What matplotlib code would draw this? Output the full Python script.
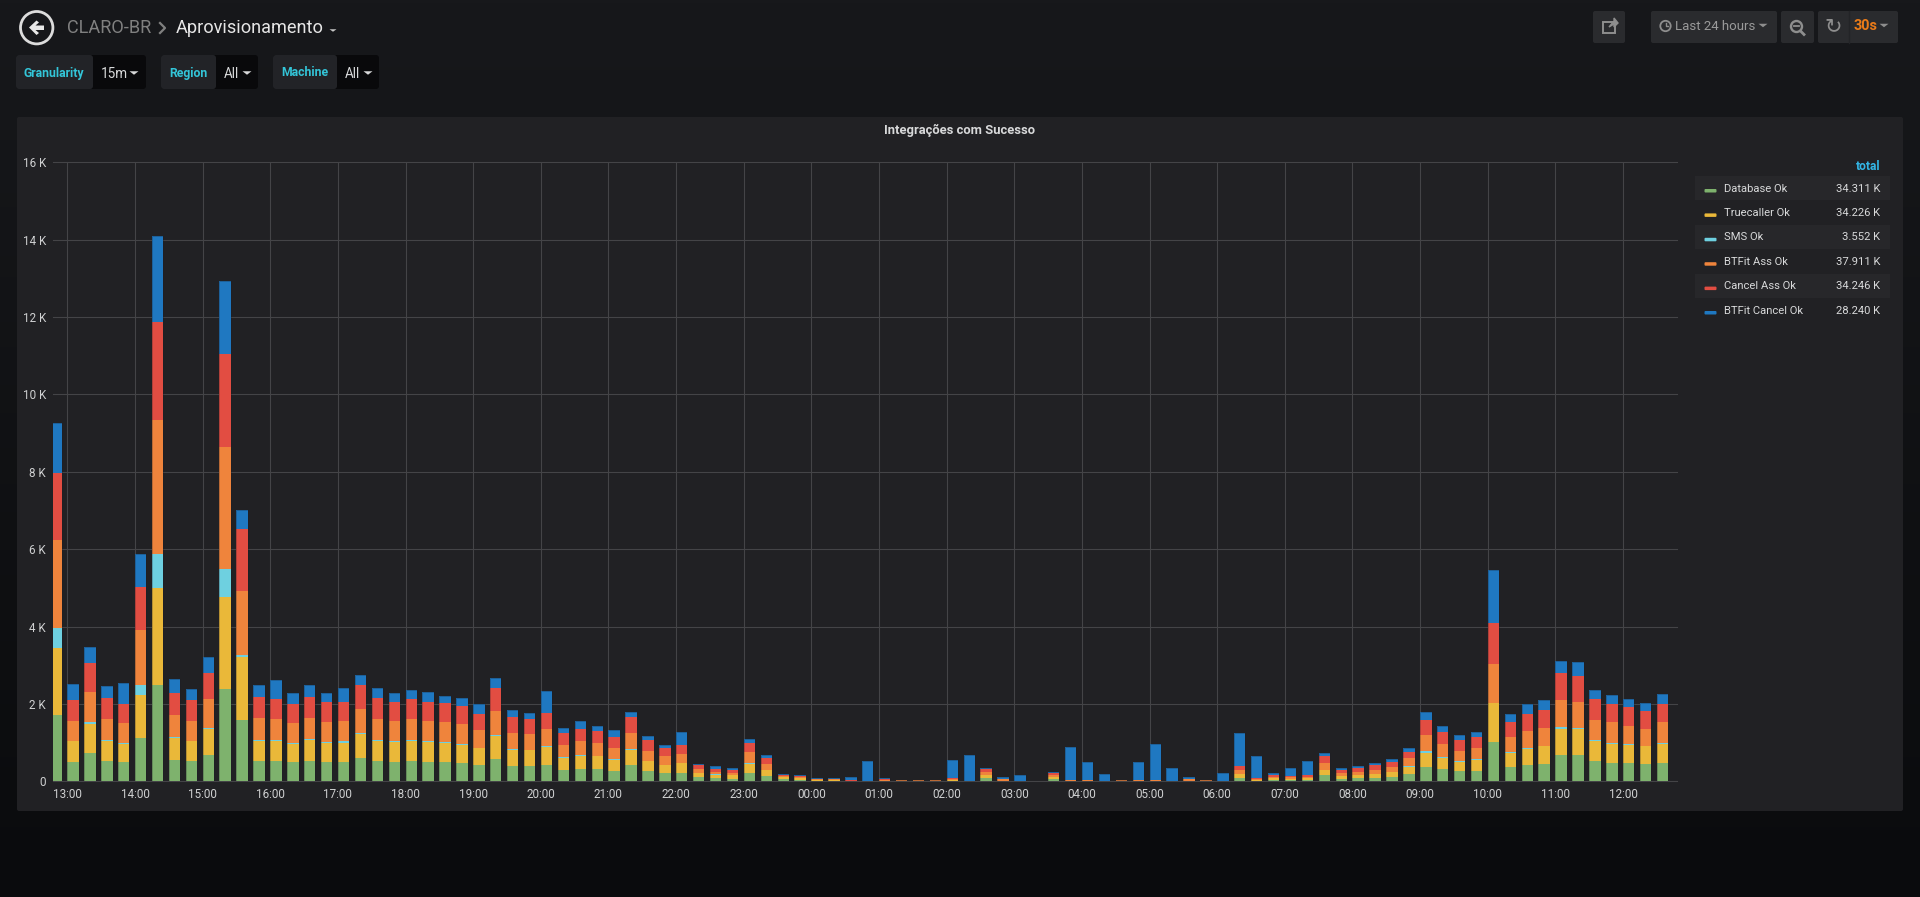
import numpy as np
import pandas as pd
import matplotlib
matplotlib.use("Agg")
import matplotlib.pyplot as plt
import matplotlib.dates as mdates
from matplotlib.patches import Circle, FancyBboxPatch, Polygon, Rectangle

plt.rcParams['font.family'] = ['Roboto', 'DejaVu Sans']

# 15 minute buckets, values in thousands
times = pd.date_range("2019-06-10 12:45", periods=96, freq="15min")

database = [1.71,.51,.72,.53,.50,1.11,2.50,.55,.52,.67,2.38,1.59,.52,.52,.49,.53,.50,
    .50,.61,.53,.51,.53,.50,.50,.47,
    .42,.58,.40,.39,.43,.30,.33,.32,.27,.41,.26,.22,.22,.10,.08,.07,
    .22,.13,.07,.04,.02,.01,.01,0,.01,.005,.005,.005,.02,0,.08,.01,0,0,.06,.005,.005,0,.01,.005,
    .005,0,.005,.005,0,.09,.02,.04,.035,.04,.155,.06,.08,.095,.11,.18,
    .36,.31,.26,.27,1.01,.36,.41,.45,.67,.67,.52,.48,.47,.44,.47]
truecaller = [1.73,.52,.75,.52,.47,1.13,2.50,.58,.51,.67,2.39,1.62,.52,.52,.47,.55,.49,
    .50,.60,.52,.51,.51,.52,.50,.47,
    .43,.58,.40,.41,.45,.31,.33,.33,.27,.40,.26,.19,.25,.11,.09,.08,
    .22,.15,.03,.04,.02,.02,0,0,.01,.005,.005,.005,.02,.01,.075,.01,0,0,.06,.015,.005,.005,.01,.005,
    .005,0,.01,.01,0,.10,.015,.04,.025,.05,.145,.08,.08,.105,.13,.20,
    .38,.30,.25,.29,1.01,.38,.43,.45,.69,.67,.53,.49,.48,.46,.50]
sms = [.53,.01,.06,.03,.03,.26,.88,.02,.01,.05,.73,.06,.04,.02,.03,.01,.02,
    .03,.03,.03,.01,.03,.02,.02,.03,
    .02,.03,.03,.01,.02,.02,.02,.01,.03,.03,.01,.01,0,.01,.01,.01,
    .03,.02,0,0,0,0,0,0,0,0,0,0,0,0,.005,0,0,0,0,0,0,0,0,0,
    0,0,0,0,0,0,0,0,0,0,0,0,0,0,.01,.02,
    .04,.03,.02,.02,.01,.02,.03,.02,.04,.03,.02,.03,.02,.01,.03]
btfit_ass = [2.27,.53,.78,.54,.51,1.40,3.47,.56,.53,.74,3.15,1.65,.56,.55,.51,.55,.53,
    .53,.64,.54,.52,.53,.51,.51,.50,
    .45,.62,.41,.41,.44,.31,.35,.32,.28,.42,.26,.23,.23,.09,.07,.06,
    .28,.14,.03,.03,.02,.02,.01,.005,.02,.015,.015,.015,.03,.01,.08,.03,.005,.01,.05,.02,.02,.005,.01,.02,
    .02,.005,.035,.02,.005,.10,.025,.04,.04,.03,.18,.08,.09,.10,.13,.19,
    .42,.33,.26,.27,1.01,.39,.43,.47,.71,.68,.52,.52,.47,.45,.52]
cancel_ass = [1.73,.52,.74,.54,.50,1.12,2.51,.58,.52,.68,2.39,1.61,.53,.53,.50,.54,.50,
    .50,.61,.53,.51,.52,.51,.50,.47,
    .42,.59,.42,.39,.43,.30,.33,.31,.29,.41,.27,.21,.23,.10,.06,.08,
    .23,.15,.03,.03,.01,0,.01,.005,.01,.005,.005,.005,.02,0,.09,.02,.005,.005,.05,.005,.005,.005,.005,.005,
    .005,.005,.005,.005,.005,.11,.025,.05,.04,.04,.18,.08,.10,.11,.13,.18,
    .39,.31,.28,.29,1.04,.37,.45,.46,.69,.68,.54,.49,.47,.45,.49]
btfit_cancel = [1.28,.43,.42,.31,.54,.85,2.23,.36,.30,.40,1.88,.48,.33,.47,.29,.31,.25,
    .34,.25,.27,.23,.23,.25,.18,.22,
    .25,.27,.19,.16,.57,.15,.21,.13,.18,.12,.11,.07,.35,.05,.09,.04,
    .11,.09,.03,.015,.02,.04,.08,.51,.045,.005,.01,.005,.45,.65,.02,.04,.16,.002,.03,.845,.475,.165,.005,.455,
    .925,.335,.065,.005,.205,.84,.565,.04,.21,.37,.07,.045,.05,.055,.06,.09,
    .21,.14,.13,.13,1.37,.22,.24,.26,.31,.35,.23,.21,.21,.21,.25]

series = [database, truecaller, sms, btfit_ass, cancel_ass, btfit_cancel]
names = ["Database Ok", "Truecaller Ok", "SMS Ok", "BTFit Ass Ok", "Cancel Ass Ok", "BTFit Cancel Ok"]
totals = ["34.311 K", "34.226 K", "3.552 K", "37.911 K", "34.246 K", "28.240 K"]
colors = ["#7eb26d", "#eab839", "#6ed0e0", "#ef843c", "#e24d42", "#1f78c1"]
yticks = [0, 2, 4, 6, 8, 10, 12, 14, 16]

W, H = 1920, 897
fig = plt.figure(figsize=(W / 100, H / 100), dpi=100)

# page background with the dark gradient
bg = fig.add_axes([0, 0, 1, 1], zorder=0)
bg.axis("off")
bg.imshow(np.linspace(0, 1, 256).reshape(-1, 1), aspect="auto", extent=(0, W, H, 0),
          cmap=matplotlib.colors.LinearSegmentedColormap.from_list("page", ["#17181b", "#0a0b0d"]))
bg.set_xlim(0, W)
bg.set_ylim(H, 0)


def box(x0, y0, x1, y1, color, round_px=2):
    bg.add_patch(FancyBboxPatch((x0, y0), x1 - x0, y1 - y0, boxstyle=f"round,pad=0,rounding_size={round_px}",
                                fc=color, ec="none"))


def label(x, y, s, size=12, color="#d8d9da", ha="left", weight="normal"):
    bg.text(x, y, s, fontsize=size * 0.72, color=color, ha=ha, va="center", fontweight=weight)


def caret(x, y, color="#d8d9da", w=4.5, h=3.5):
    bg.add_patch(Polygon([(x - w, y - h / 2), (x + w, y - h / 2), (x, y + h / 2)], fc=color, ec="none"))


# panel
box(17, 117, 1903, 811, "#212124", 2)
label(960, 130.5, "Integrações com Sucesso", size=13, ha="center", weight="bold")

# header, back button and breadcrumb
bg.add_patch(Circle((36.7, 27.7), 16.2, fc="none", ec="#dcdcdc", lw=2))
bg.add_patch(Polygon([(29, 27.5), (36.5, 20.5), (39, 22.5), (35.5, 25.5), (44, 25.5), (44, 30), (35.5, 30),
                      (39, 33), (36.5, 35)], fc="#e8e8e8", ec="none"))
label(67, 28, "CLARO-BR", size=18.2, color="#808080")
bg.plot([160, 165, 160], [23, 28, 33], color="#808080", lw=1.6)
label(176, 28, "Aprovisionamento", size=18.2, color="#e6e6e6")
caret(333, 30.5, color="#c8c8c8", w=3.5, h=2.5)

# template variables
for x0, xm, x1, name, value, xv, xc in [(16, 93, 146, "Granularity", "15m", 101, 134),
                                       (161, 216, 258, "Region", "All", 224, 247),
                                       (273, 337, 379, "Machine", "All", 345, 368)]:
    box(x0, 55, x1, 89, "#09090b", 3)
    box(x0, 55, xm, 89, "#222327", 3)
    label(x0 + 8, 73, name, size=12.2, color="#33c5d8", weight="bold")
    label(xv, 74, value, size=13.5, color="#d8d9da")
    caret(xc, 73, color="#d8d9da")

# buttons on the right
for x0, x1 in [(1593, 1625), (1651, 1777), (1781, 1814), (1818, 1898)]:
    box(x0, 11, x1, 43, "#2a2b2e", 2)
bg.plot([1849, 1849], [11, 43], color="#232427", lw=1)
grey = "#8e8e8e"
# share icon
bg.add_patch(Rectangle((1603, 22), 12, 11, fc="none", ec=grey, lw=1.4))
bg.add_patch(Polygon([(1609, 27), (1614, 21), (1614, 18), (1618, 23), (1614, 27), (1614, 24)], fc=grey, ec=grey, lw=1))
# clock
bg.add_patch(Circle((1665.5, 26), 5.2, fc="none", ec=grey, lw=1.3))
bg.plot([1665.5, 1665.5, 1668], [23, 26.5, 26.5], color=grey, lw=1)
label(1675, 26.5, "Last 24 hours", size=13.2, color="#9a9a9a")
caret(1763, 25.5, color=grey)
# zoom out
bg.add_patch(Circle((1796.5, 26.5), 5.5, fc="none", ec=grey, lw=1.7))
bg.plot([1794, 1799], [26.5, 26.5], color=grey, lw=1.3)
bg.plot([1800.5, 1804], [31, 34.5], color=grey, lw=2)
# refresh
bg.text(1833.5, 26.5, "\u21bb", fontsize=15, color=grey, ha="center", va="center", family="DejaVu Sans")
label(1854, 26.5, "30s", size=14.5, color="#eb7b18", weight="bold")
caret(1884, 25.5, color=grey)

# legend on the right of the panel
label(1880, 166, "total", size=12, color="#33b5e5", ha="right", weight="bold")
for i, (name, total, c) in enumerate(zip(names, totals, colors)):
    yc = 188.5 + i * 24.4
    if i % 2 == 0:
        bg.add_patch(Rectangle((1695, yc - 12), 195, 24, fc="#27272a", ec="none"))
    bg.add_patch(FancyBboxPatch((1704.5, yc + 0.5), 12, 3.5, boxstyle="round,pad=0,rounding_size=1", fc=c, ec="none"))
    label(1723.5, yc, name, size=11.3, color="#d8d9da")
    label(1880, yc, total, size=11.3, color="#d8d9da", ha="right")

# the graph itself
px_left, px_right, px_top, px_bottom = 53, 1677, 162.3, 781.3
ax = fig.add_axes([px_left / W, 1 - px_bottom / H, (px_right - px_left) / W, (px_bottom - px_top) / H], zorder=1)
ax.patch.set_alpha(0)

t13 = mdates.date2num(pd.Timestamp("2019-06-10 13:00"))
px_per_day = 67.64 * 24
x0 = t13 - (67.3 - px_left) / px_per_day
ax.set_xlim(x0, x0 + (px_right - px_left) / px_per_day)
ax.set_ylim(0, 16)

x = mdates.date2num(times)
bottom = np.zeros(len(times))
for values, c in zip(series, colors):
    values = np.array(values)
    ax.bar(x, values, width=11.4 / px_per_day, bottom=bottom, align="edge", color=c,
           edgecolor=matplotlib.colors.to_rgba(c, 0.0), linewidth=0, zorder=3)
    bottom = bottom + values

# thin dark outlines the stacked blocks show in the original
ax.bar(x, bottom, width=11.4 / px_per_day, align="edge", color="none",
       edgecolor=(0.1, 0.1, 0.14, 0.3), linewidth=0.6, zorder=4)

ax.xaxis.set_major_locator(mdates.HourLocator())
ax.xaxis.set_major_formatter(mdates.DateFormatter("%H:%M"))
ax.set_yticks(yticks)
ax.set_yticklabels(["0" if v == 0 else f"{v} K" for v in yticks])
ax.tick_params(axis="both", length=0, labelsize=8.4, labelcolor="#d0d1d2")
ax.tick_params(axis="x", pad=5)
ax.tick_params(axis="y", pad=5)
ax.grid(True, color="#444447", linewidth=0.8, zorder=0)
for g in ax.get_ygridlines():
    g.set_clip_on(False)
ax.set_axisbelow(True)
for s in ax.spines.values():
    s.set_visible(False)

fig.savefig("out.png", dpi=100)
